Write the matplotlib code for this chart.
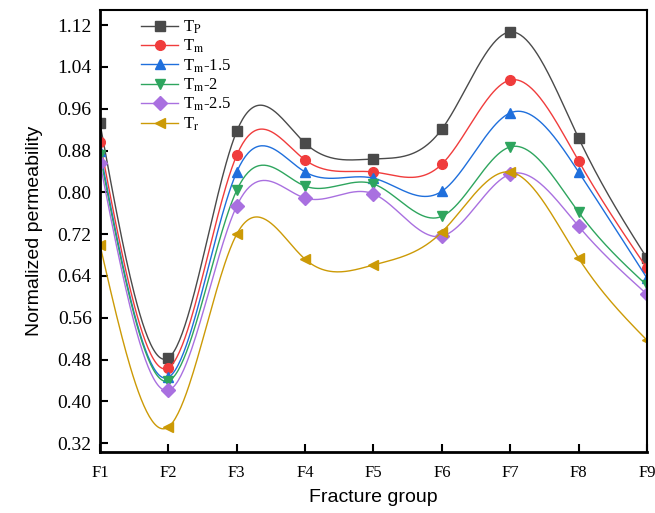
import numpy as np
import matplotlib.pyplot as plt

plt.rcParams['mathtext.fontset'] = 'stix'

groups = ['F1', 'F2', 'F3', 'F4', 'F5', 'F6', 'F7', 'F8', 'F9']
t_p = [0.932, 0.483, 0.917, 0.894, 0.864, 0.921, 1.107, 0.904, 0.674]
t_m = [0.896, 0.464, 0.871, 0.862, 0.839, 0.854, 1.015, 0.860, 0.655]
t_m15 = [0.879, 0.446, 0.839, 0.839, 0.827, 0.802, 0.952, 0.839, 0.636]
t_m2 = [0.871, 0.439, 0.804, 0.812, 0.816, 0.754, 0.887, 0.762, 0.622]
t_m25 = [0.856, 0.421, 0.774, 0.789, 0.797, 0.716, 0.835, 0.735, 0.605]
t_r = [0.699, 0.351, 0.720, 0.672, 0.661, 0.724, 0.839, 0.674, 0.517]

labels = [r'T$_{\rm P}$', r'T$_{\rm m}$', r'T$_{\rm m}$-1.5',
          r'T$_{\rm m}$-2', r'T$_{\rm m}$-2.5', r'T$_{\rm r}$']
colors = ['#4a4a4a', '#f03c3c', '#1f6fdc', '#2ea55e', '#a970e0', '#cc9a06']
markers = ['s', 'o', '^', 'v', 'D', '<']
series = [t_p, t_m, t_m15, t_m2, t_m25, t_r]


def spline(x, y, xs):
    # natural cubic spline through the points
    n = len(x)
    h = np.diff(x)
    A = np.zeros((n, n))
    b = np.zeros(n)
    A[0, 0] = A[-1, -1] = 1
    for i in range(1, n - 1):
        A[i, i - 1] = h[i - 1]
        A[i, i] = 2 * (h[i - 1] + h[i])
        A[i, i + 1] = h[i]
        b[i] = 6 * ((y[i + 1] - y[i]) / h[i] - (y[i] - y[i - 1]) / h[i - 1])
    M = np.linalg.solve(A, b)
    k = np.clip(np.searchsorted(x, xs) - 1, 0, n - 2)
    t = xs - x[k]
    hk = h[k]
    return (M[k] * (x[k + 1] - xs) ** 3 / (6 * hk) + M[k + 1] * t ** 3 / (6 * hk)
            + (y[k] / hk - M[k] * hk / 6) * (x[k + 1] - xs)
            + (y[k + 1] / hk - M[k + 1] * hk / 6) * t)


fig = plt.figure(figsize=(6.55, 5.13), dpi=100)
ax = fig.add_axes([0.1527, 0.1189, 0.835, 0.8616])

x = np.arange(len(groups), dtype=float)
xs = np.linspace(0, len(groups) - 1, 400)
for vals, lab, c, m in zip(series, labels, colors, markers):
    y = np.array(vals)
    ax.plot(xs, spline(x, y, xs), color=c, lw=1.0)
    ax.plot(x, y, ls='none', marker=m, ms=7, color=c)
    ax.plot([], [], color=c, lw=1.0, marker=m, ms=7, label=lab)

ax.set_xlim(0, len(groups) - 1)
ax.set_ylim(0.303, 1.149)
ax.set_xticks(x)
ax.set_xticklabels(groups, family='Liberation Serif', fontsize=12)
yt = np.arange(0.32, 1.13, 0.08)
ax.set_yticks(yt)
ax.set_yticklabels(['%.2f' % v for v in yt], family='Liberation Serif', fontsize=14)
ax.tick_params(direction='in', length=6, width=1.5, pad=6)
ax.tick_params(axis='x', pad=9)
for s in ax.spines.values():
    s.set_linewidth(1.5)
ax.spines['left'].set_linewidth(2)
ax.spines['bottom'].set_linewidth(2)

ax.set_xlabel('Fracture group', family='Liberation Sans', fontsize=14, labelpad=6)
ax.set_ylabel('Normalized permeability', family='Liberation Sans', fontsize=14, labelpad=10)

ax.legend(loc='upper left', bbox_to_anchor=(0.06, 1.0), frameon=False,
          prop={'family': 'Liberation Serif', 'size': 12},
          handlelength=2.2, labelspacing=0.12, handletextpad=0.3, borderaxespad=0.1)

fig.savefig('out.png', dpi=100)
